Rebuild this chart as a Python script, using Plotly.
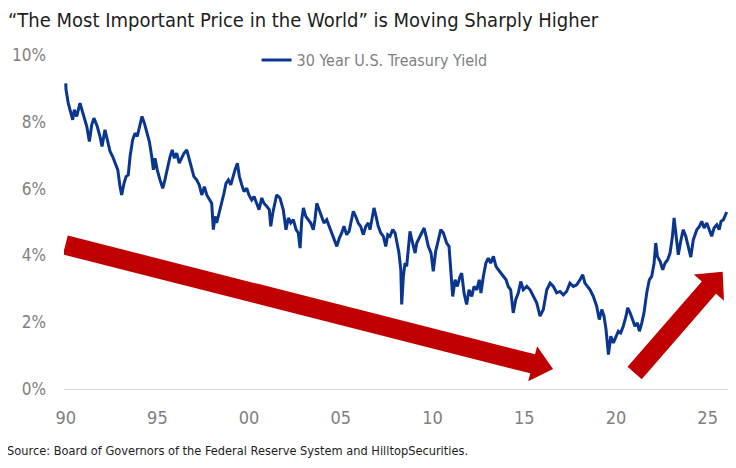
import math
import plotly.graph_objects as go

# rendimento do treasury de 30 anos (ano decimal, %)
anos = [1990.00, 1990.02, 1990.14, 1990.27, 1990.38, 1990.47, 1990.60, 1990.78, 1990.91,
        1991.05, 1991.15, 1991.29, 1991.42, 1991.54, 1991.72, 1991.87, 1991.98,
        1992.14, 1992.24, 1992.42, 1992.56, 1992.69, 1992.84, 1992.96,
        1993.05, 1993.18, 1993.29, 1993.41, 1993.51, 1993.65, 1993.78, 1993.90,
        1994.05, 1994.16, 1994.29, 1994.42, 1994.56, 1994.69, 1994.78, 1994.87, 1994.99,
        1995.14, 1995.29, 1995.41, 1995.56, 1995.69, 1995.81, 1995.92,
        1996.05, 1996.19, 1996.32, 1996.45, 1996.60, 1996.72, 1996.87, 1996.99,
        1997.14, 1997.28, 1997.42, 1997.56, 1997.69, 1997.83, 1997.96,
        1998.05, 1998.14, 1998.23, 1998.37, 1998.51, 1998.63, 1998.74, 1998.87,
        1999.00, 1999.11, 1999.23, 1999.36, 1999.47, 1999.60, 1999.72, 1999.87, 1999.99,
        2000.14, 2000.27, 2000.41, 2000.54, 2000.69, 2000.81, 2000.96,
        2001.10, 2001.18, 2001.29,
        2001.50, 2001.68, 2001.86,
        2002.01, 2002.14, 2002.27, 2002.41, 2002.56, 2002.68, 2002.78, 2002.87, 2002.96,
        2003.09, 2003.23, 2003.36, 2003.50, 2003.59, 2003.69, 2003.81, 2003.96,
        2004.08, 2004.23, 2004.37, 2004.50, 2004.65, 2004.78, 2004.92,
        2005.05, 2005.17, 2005.32, 2005.45, 2005.56, 2005.68, 2005.81, 2005.95,
        2006.08, 2006.23, 2006.36, 2006.50, 2006.59, 2006.74, 2006.81, 2006.92,
        2007.04, 2007.18, 2007.32, 2007.45, 2007.56, 2007.68, 2007.83, 2007.96,
        2008.08, 2008.17, 2008.27, 2008.32, 2008.41, 2008.50, 2008.59, 2008.68, 2008.77, 2008.87, 2008.95,
        2009.05, 2009.14, 2009.26, 2009.41, 2009.54, 2009.65, 2009.77, 2009.92,
        2010.04, 2010.17, 2010.32, 2010.45, 2010.59, 2010.77, 2010.90,
        2011.01, 2011.10, 2011.23, 2011.35, 2011.50, 2011.59, 2011.72, 2011.86, 2011.99,
        2012.14, 2012.26, 2012.41, 2012.55, 2012.64, 2012.77, 2012.91,
        2013.04, 2013.17, 2013.32, 2013.46, 2013.59, 2013.72, 2013.86,
        2014.01, 2014.13, 2014.26, 2014.40, 2014.54, 2014.68,
        2014.81, 2014.95,
        2015.14, 2015.32, 2015.50, 2015.68, 2015.86,
        2016.04, 2016.23, 2016.41, 2016.59, 2016.77, 2016.95,
        2017.13, 2017.31, 2017.49, 2017.68, 2017.86,
        2018.04, 2018.19, 2018.31, 2018.44, 2018.59, 2018.77, 2018.95,
        2019.09, 2019.23, 2019.35, 2019.46, 2019.59, 2019.72, 2019.86,
        2020.01, 2020.13, 2020.26, 2020.40, 2020.55, 2020.64, 2020.77, 2020.92,
        2021.04, 2021.17, 2021.28, 2021.41, 2021.53, 2021.68, 2021.82, 2021.95,
        2022.08, 2022.17, 2022.26, 2022.41, 2022.55, 2022.68, 2022.82, 2022.95,
        2023.08, 2023.17, 2023.28, 2023.40, 2023.53, 2023.67, 2023.81, 2023.91,
        2024.08, 2024.22, 2024.41, 2024.55, 2024.68, 2024.81, 2024.95,
        2025.09, 2025.22, 2025.35, 2025.50, 2025.63, 2025.73, 2025.86, 2025.95,
        2026.04]

rendimento = [9.15, 8.95, 8.56, 8.26, 8.06, 8.36, 8.16, 8.56, 8.31,
              8.06, 7.86, 7.41, 7.91, 8.11, 7.86, 7.56, 7.26,
              7.76, 7.51, 7.11, 6.96, 6.76, 6.56, 6.06,
              5.81, 6.16, 6.36, 6.41, 6.96, 7.46, 7.66, 7.56,
              7.91, 8.16, 7.96, 7.71, 7.41, 6.96, 6.56, 6.91, 6.56,
              6.26, 6.01, 6.26, 6.66, 6.96, 7.16, 6.91,
              7.06, 6.76, 6.91, 7.06, 7.16, 6.91, 6.61, 6.36,
              6.26, 6.11, 5.81, 6.06, 5.81, 5.66, 5.56,
              4.77, 5.17, 4.97, 5.27, 5.56, 5.86, 6.16, 6.26,
              6.11, 6.36, 6.56, 6.76, 6.36, 6.11, 5.91, 6.01, 5.81,
              5.66, 5.76, 5.56, 5.37, 5.72, 5.56, 5.47,
              5.37, 4.87, 5.27,
              5.81, 5.72, 5.37,
              4.77, 5.12, 4.97, 5.07, 4.77, 4.67, 4.22, 5.07, 5.42,
              5.17, 5.07, 4.97, 4.77, 5.07, 5.56, 5.37, 5.17,
              4.97, 5.07, 4.87, 4.67, 4.42, 4.27, 4.52,
              4.67, 4.87, 4.62, 4.72, 5.02, 5.32, 5.17, 4.97,
              4.87, 4.62, 4.87, 4.97, 4.77, 5.17, 5.42, 5.17,
              4.87, 4.67, 4.57, 4.27, 4.62, 4.57, 4.77, 4.67,
              4.37, 4.07, 3.57, 2.53, 3.37, 3.77, 3.67, 4.27, 4.72, 4.47, 4.27,
              4.07, 4.37, 4.52, 4.67, 4.82, 4.57, 4.27, 4.07,
              3.52, 4.12, 4.52, 4.77, 4.67, 4.37, 4.27,
              3.57, 2.77, 3.27, 3.07, 3.37, 3.47, 2.87, 2.53, 2.97,
              2.77, 3.07, 2.97, 3.27, 2.87, 3.37, 3.77,
              3.92, 3.77, 3.97, 3.67, 3.57, 3.47, 3.37,
              3.27, 3.07, 2.97, 2.28, 2.68, 2.88,
              3.22, 2.97,
              3.07, 2.97, 2.77, 2.58, 2.18,
              2.38, 2.97, 3.17, 3.07, 2.88, 2.92,
              2.82, 2.92, 3.17, 3.07, 3.12,
              3.27, 3.42, 3.17, 3.07, 2.97, 2.77, 2.48,
              2.08, 2.38, 2.18, 1.78, 1.03, 1.58, 1.38,
              1.58, 1.73, 1.68, 1.88, 2.18, 2.43, 2.28, 2.08,
              1.88, 1.98, 1.73, 1.98, 2.28, 2.88, 3.27, 3.37,
              3.77, 4.37, 3.97, 3.82, 3.57, 3.77, 3.87, 4.07,
              4.57, 5.12, 4.57, 4.02, 4.42, 4.77, 4.57, 4.37,
              3.95, 4.47, 4.77, 4.87, 5.02, 4.82, 4.97,
              4.77, 4.57, 4.82, 4.92, 4.77, 5.02, 5.07, 5.22,
              5.30]

x_ticks = [1990, 1995, 2000, 2005, 2010, 2015, 2020, 2025]
x_labels = ['90', '95', '00', '05', '10', '15', '20', '25']
y_ticks = [0, 2, 4, 6, 8, 10]
y_labels = ['0%', '2%', '4%', '6%', '8%', '10%']

# setas: (x inicio, y inicio, x ponta, y ponta)
seta_queda = (1989.98, 4.31, 2016.57, 0.60)
seta_alta = (2021.02, 0.48, 2025.82, 3.51)

# a pagina tem margem de 8px no body, por isso tudo vai 8px para cima/esquerda
W, H = 736, 468
ml, mr, mt, mb = 56, 16, 47, 87
x_range = [1989.907, 2026.11]
y_range = [0, 10]

FONTE = "DejaVu Sans Condensed, Liberation Sans Narrow, sans-serif"
AZUL = '#0b3690'
VERMELHO = '#c00000'


def seta(p, meia_haste, meia_cabeca, comp_cabeca):
    pw = W - ml - mr
    ph = H - mt - mb
    sx = pw / (x_range[1] - x_range[0])
    sy = ph / (y_range[1] - y_range[0])
    ax, ay = (p[0] - x_range[0]) * sx, p[1] * sy
    bx, by = (p[2] - x_range[0]) * sx, p[3] * sy
    L = math.hypot(bx - ax, by - ay)
    ux, uy = (bx - ax) / L, (by - ay) / L
    nx, ny = -uy, ux
    cx, cy = bx - ux * comp_cabeca, by - uy * comp_cabeca
    pts = [(ax + nx * meia_haste, ay + ny * meia_haste),
           (cx + nx * meia_haste, cy + ny * meia_haste),
           (cx + nx * meia_cabeca, cy + ny * meia_cabeca),
           (bx, by),
           (cx - nx * meia_cabeca, cy - ny * meia_cabeca),
           (cx - nx * meia_haste, cy - ny * meia_haste),
           (ax - nx * meia_haste, ay - ny * meia_haste)]
    txt = ' L '.join('%.4f,%.4f' % (x_range[0] + px / sx, py / sy) for px, py in pts)
    return dict(type='path', path='M ' + txt + ' Z', xref='x', yref='y',
                fillcolor=VERMELHO, line=dict(width=0), layer='above')


fig = go.Figure()
fig.add_trace(go.Scatter(x=anos, y=rendimento,
                         name='30 Year U.S. Treasury Yield',
                         mode='lines',
                         line=dict(color=AZUL, width=3)))

fig.update_layout(
    width=W, height=H,
    margin=dict(l=ml, r=mr, t=mt, b=mb, autoexpand=False),
    paper_bgcolor='white', plot_bgcolor='white',
    font=dict(family=FONTE, color='#7f7f7f'),
    title=dict(text='“The Most Important Price in the World” is Moving Sharply Higher',
               x=0.0, xanchor='left', xref='container',
               y=1.0, yanchor='top', yref='container',
               pad=dict(t=5, l=0),
               font=dict(family=FONTE, size=20, color='#1d1d1b')),
    showlegend=True,
    legend=dict(x=0.29, xanchor='left', y=0.985, yanchor='middle',
                bgcolor='rgba(0,0,0,0)', font=dict(size=16, color='#7f7f7f'),
                itemwidth=30),
    shapes=[seta(seta_queda, 9.8, 18, 21), seta(seta_alta, 9.4, 20, 21)],
    annotations=[dict(text='Source: Board of Governors of the Federal Reserve System and HilltopSecurities.',
                      xref='paper', yref='paper', x=-0.089, y=-0.183,
                      xanchor='left', yanchor='middle', showarrow=False,
                      font=dict(family=FONTE, size=12.7, color='#1d1d1b'))],
)

fig.update_xaxes(range=x_range, tickvals=x_ticks, ticktext=x_labels,
                 automargin=False,
                 showgrid=False, zeroline=False, showline=True,
                 linecolor='#d9d9d9', linewidth=1, ticks='',
                 ticklabelstandoff=12,
                 tickfont=dict(size=18, color='#808080'))
fig.update_yaxes(range=y_range, tickvals=y_ticks, ticktext=y_labels,
                 automargin=False,
                 showgrid=False, zeroline=False, showline=False, ticks='',
                 ticklabelstandoff=17,
                 tickfont=dict(size=17, color='#808080'))

fig.write_html("out.html")
